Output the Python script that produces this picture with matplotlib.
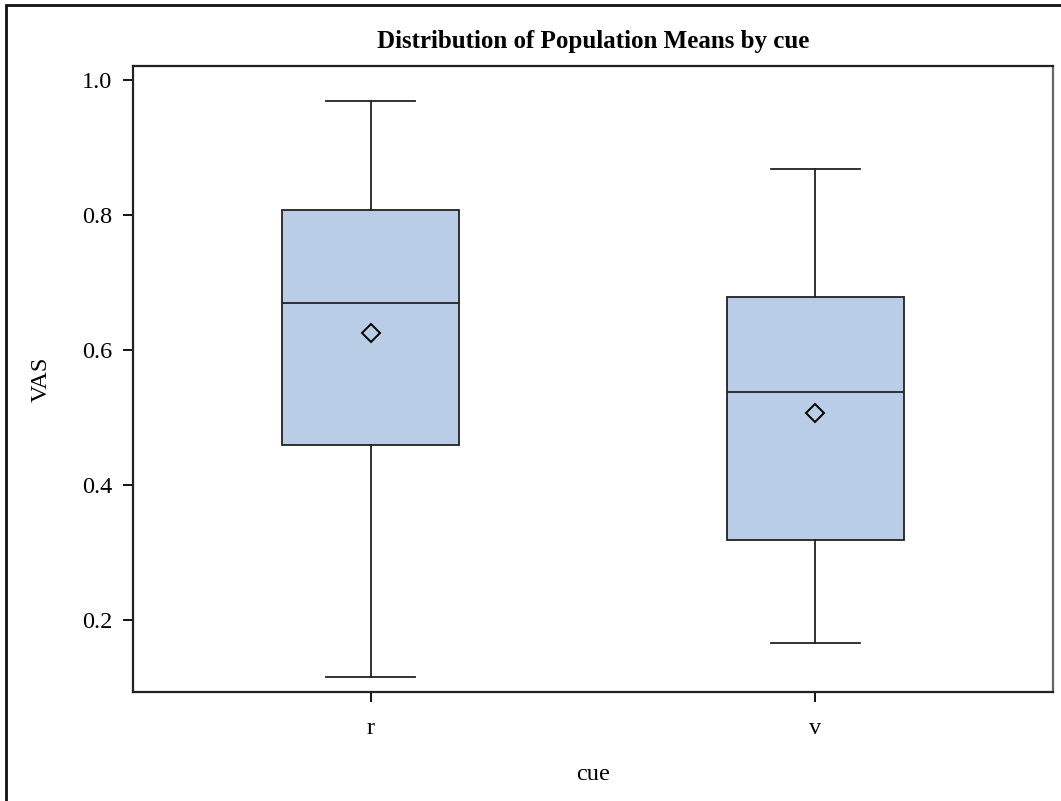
import matplotlib.pyplot as plt
from matplotlib.patches import Rectangle

# valeurs
cues = ['r', 'v']
whisker_low = [0.116, 0.166]
q1 = [0.459, 0.318]
median = [0.670, 0.538]
q3 = [0.807, 0.678]
whisker_high = [0.969, 0.868]
means = [0.625, 0.506]

plt.rcParams['font.family'] = ['Liberation Serif', 'DejaVu Serif']

fig = plt.figure(figsize=(10.61, 8.01), dpi=100)
ax = fig.add_axes([133 / 1061, 1 - 692 / 801, 920 / 1061, 626 / 801])

stats = []
for i, c in enumerate(cues):
    stats.append({'label': c, 'whislo': whisker_low[i], 'q1': q1[i], 'med': median[i],
                  'q3': q3[i], 'whishi': whisker_high[i], 'mean': means[i], 'fliers': []})

ax.bxp(stats, positions=[1, 2], widths=0.398, patch_artist=True, showmeans=True,
       boxprops=dict(facecolor='#B9CDE6', edgecolor='#222222', linewidth=1.3),
       medianprops=dict(color='#222222', linewidth=1.3),
       whiskerprops=dict(color='#222222', linewidth=1.3),
       capprops=dict(color='#222222', linewidth=1.3),
       meanprops=dict(marker='D', markerfacecolor='none', markeredgecolor='black',
                      markersize=9, markeredgewidth=1.4))

ax.set_xlim(0.466, 2.534)
ax.set_ylim(0.0933, 1.0207)
ax.set_yticks([0.2, 0.4, 0.6, 0.8, 1.0])
ax.set_yticklabels(['0.2', '0.4', '0.6', '0.8', '1.0'])
ax.tick_params(axis='both', labelsize=17.5, length=7, width=1.3, direction='out', pad=8)
ax.tick_params(axis='x', pad=12)

for s in ax.spines.values():
    s.set_linewidth(1.6)
    s.set_color('#222222')
ax.spines['right'].set_color('#666666')

ax.set_title('Distribution of Population Means by cue', fontsize=18, fontweight='bold', pad=13)
ax.set_xlabel('cue', fontsize=17.5, labelpad=18)
ax.set_ylabel('VAS', fontsize=17.5, labelpad=22)

fig.patches.append(Rectangle((6 / 1061, -0.1), 1.2, 1 - 5 / 801 + 0.1, transform=fig.transFigure,
                             fill=False, edgecolor='#111111', linewidth=2))

fig.savefig('out.png', dpi=100)
